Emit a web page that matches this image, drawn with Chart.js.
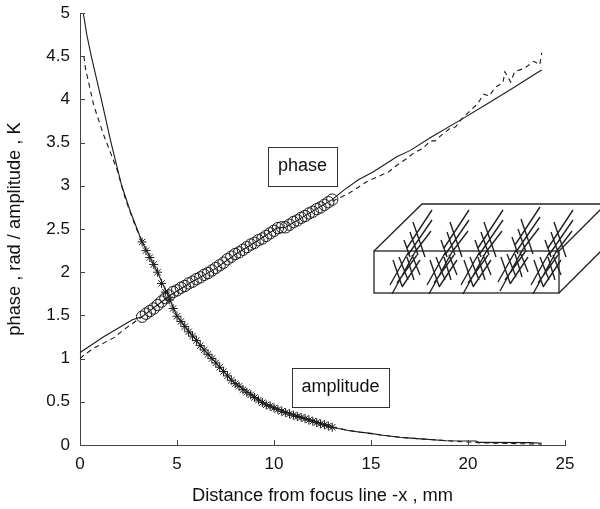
<!DOCTYPE html>
<html>
<head>
<meta charset="utf-8">
<style>
	html, body { margin: 0; padding: 0; background: #fff; }
	#wrap { width: 600px; height: 509px; }
</style>
<script src="https://cdn.jsdelivr.net/npm/chart.js@4"></script>
</head>
<body>
<div id="wrap"><canvas id="fig"></canvas></div>
<script>
// values
const xTickValues = [0, 5, 10, 15, 20, 25];
const yTickValues = [0, 0.5, 1, 1.5, 2, 2.5, 3, 3.5, 4, 4.5, 5];

const ampSolidX = [0.17, 0.35, 0.58, 1.1, 1.6, 2.15, 2.6, 3.2, 4.0, 5.0, 6.4, 7.9, 9.65, 11.4, 13.0, 13.95, 15.0, 15.5, 16.5, 17.2, 18.9, 20.4, 20.6, 23.2, 23.8];
const ampSolidY = [5.0, 4.75, 4.5, 4.0, 3.5, 3.0, 2.7, 2.35, 2.0, 1.49, 1.1, 0.73, 0.46, 0.32, 0.205, 0.162, 0.135, 0.116, 0.09, 0.077, 0.05, 0.046, 0.03, 0.027, 0.02];

// dashed curves are hidden under the markers, the null leaves that stretch empty
const ampDashX = [0.2, 0.28, 0.71, 1.2, 1.92, 2.35, 2.86, 3.2, 8.0, 13.0, 14.5, 16.5, 18.9, 20.6, 23.8];
const ampDashY = [4.5, 4.36, 3.93, 3.6, 3.18, 2.84, 2.53, 2.35, null, 0.205, 0.145, 0.088, 0.05, 0.025, 0.01];

const phaseSolidX = [0, 0.2, 1.2, 2.7, 3.2, 4.67, 5.78, 6.9, 8.1, 9.05, 10.15, 10.6, 13.0, 13.6, 14.35, 15.1, 16.35, 17.03, 18.07, 19.6, 21.0, 22.3, 23.5, 23.8];
const phaseSolidY = [1.07, 1.1, 1.25, 1.45, 1.485, 1.736, 1.89, 2.03, 2.22, 2.35, 2.51, 2.52, 2.84, 2.95, 3.07, 3.16, 3.34, 3.41, 3.56, 3.76, 3.95, 4.13, 4.3, 4.34];

const phaseDashX = [0, 0.2, 0.7, 1.73, 2.35, 3.2, 8.0, 13.0, 13.84, 14.8, 15.9, 16.35, 16.87, 17.2, 17.65, 18.06, 18.3, 18.6, 19.1, 19.35, 19.7, 20.5, 20.8, 21.1, 21.4, 21.8, 21.9, 22.2, 22.4, 22.9, 23.4, 23.7, 23.8];
const phaseDashY = [1.0, 1.04, 1.12, 1.24, 1.35, 1.485, null, 2.82, 2.91, 3.05, 3.16, 3.24, 3.32, 3.38, 3.43, 3.52, 3.52, 3.58, 3.67, 3.68, 3.78, 3.95, 4.06, 4.04, 4.14, 4.19, 4.32, 4.2, 4.32, 4.36, 4.44, 4.4, 4.54];

const markerX = [3.2, 3.4, 3.6, 3.8, 4.0, 4.2, 4.4, 4.6, 4.8, 5.0, 5.2, 5.4, 5.6, 5.8, 6.0, 6.2, 6.4, 6.6, 6.8, 7.0, 7.2, 7.4, 7.6, 7.8, 8.0, 8.2, 8.4, 8.6, 8.8, 9.0, 9.2, 9.4, 9.6, 9.8, 10.0, 10.2, 10.4, 10.6, 10.8, 11.0, 11.2, 11.4, 11.6, 11.8, 12.0, 12.2, 12.4, 12.6, 12.8, 13.0];
const phaseMarkerY = [1.485, 1.52, 1.55, 1.58, 1.62, 1.66, 1.70, 1.73, 1.77, 1.79, 1.82, 1.84, 1.87, 1.89, 1.92, 1.94, 1.97, 1.99, 2.02, 2.05, 2.08, 2.11, 2.15, 2.18, 2.21, 2.23, 2.26, 2.29, 2.32, 2.34, 2.37, 2.39, 2.42, 2.45, 2.48, 2.51, 2.52, 2.52, 2.55, 2.58, 2.60, 2.63, 2.65, 2.68, 2.70, 2.73, 2.75, 2.78, 2.81, 2.84];
const ampMarkerY = [2.35, 2.25, 2.17, 2.09, 2.0, 1.87, 1.77, 1.68, 1.58, 1.49, 1.43, 1.37, 1.31, 1.26, 1.21, 1.15, 1.10, 1.05, 1.0, 0.95, 0.90, 0.85, 0.80, 0.75, 0.71, 0.68, 0.64, 0.61, 0.58, 0.55, 0.52, 0.49, 0.465, 0.45, 0.43, 0.41, 0.39, 0.375, 0.36, 0.345, 0.33, 0.32, 0.305, 0.29, 0.275, 0.26, 0.245, 0.235, 0.22, 0.205];

const ink = '#1a1a1a';
const fontFamily = '"Liberation Sans", Arial, sans-serif';

function pts(xs, ys) {
	return xs.map(function(x, i) { return { x: x, y: ys[i] }; });
}

function curve(xs, ys, dash) {
	return {
		data        : pts(xs, ys),
		borderColor : ink,
		borderWidth : 1.1,
		borderDash  : dash,
		pointRadius : 0,
		tension     : 0,
		clip        : false
	};
}

function markers(xs, ys, style, radius, width) {
	return {
		data             : pts(xs, ys),
		showLine         : false,
		pointStyle       : style,
		pointRadius      : radius,
		pointBorderWidth : width,
		pointBorderColor : ink,
		pointBackgroundColor : 'transparent'
	};
}

// small ticks pointing into the plot
const innerTicks = {
	id : 'innerTicks',
	afterDraw(chart) {
		const c = chart.ctx, xs = chart.scales.x, ys = chart.scales.y;
		c.save();
		c.strokeStyle = '#444';
		c.lineWidth = 1;
		c.beginPath();
		xTickValues.forEach(function(v) {
			let p = Math.round(xs.getPixelForValue(v)) + 0.5;
			c.moveTo(p, ys.bottom);
			c.lineTo(p, ys.bottom - 5);
		});
		yTickValues.forEach(function(v) {
			let p = Math.round(ys.getPixelForValue(v)) + 0.5;
			c.moveTo(xs.left, p);
			c.lineTo(xs.left + 5, p);
		});
		c.stroke();
		c.restore();
	}
};

function labelBox(c, text, l, t, r, b) {
	c.strokeStyle = '#333';
	c.lineWidth = 1;
	c.strokeRect(l + 0.5, t + 0.5, r - l, b - t);
	c.fillStyle = '#111';
	c.font = '18px ' + fontFamily;
	c.textAlign = 'center';
	c.textBaseline = 'middle';
	c.fillText(text, (l + r) / 2, (t + b) / 2);
}

function hatch(c, dx, dy) {
	// one cluster of crossing fibres
	const lines = [
		[407, 248, 432, 210], [408, 255, 432, 220], [415, 252, 431, 231],
		[392, 294, 415, 252], [390, 285, 408, 253], [402, 287, 420, 260], [397, 283, 417, 255],
		[413, 222, 425, 257], [410, 232, 418, 255], [404, 240, 410, 257],
		[393, 260, 402, 286], [399, 257, 408, 280], [407, 257, 414, 280], [412, 255, 420, 275]
	];
	c.beginPath();
	lines.forEach(function(l) {
		c.moveTo(l[0] + dx, l[1] + dy);
		c.lineTo(l[2] + dx, l[3] + dy);
	});
	c.stroke();
}

const sketch = {
	id : 'sketch',
	afterDraw(chart) {
		const c = chart.ctx;
		c.save();
		labelBox(c, 'phase', 268, 147, 337, 186);
		labelBox(c, 'amplitude', 292, 368, 389, 407);

		// block with fibres
		c.strokeStyle = '#222';
		c.lineWidth = 1.4;
		[0, 37, 71, 108, 141].forEach(function(dx, i) {
			hatch(c, dx, i == 3 ? -3 : 0);
		});
		c.lineWidth = 1.3;
		c.strokeRect(374, 251, 185, 42);
		c.beginPath();
		c.moveTo(374, 251); c.lineTo(422, 204); c.lineTo(606, 204); c.lineTo(559, 251);
		c.moveTo(559, 293); c.lineTo(606, 246);
		c.stroke();
		c.restore();
	}
};

new Chart(document.getElementById('fig').getContext('2d'), {
	type : 'line',
	data : {
		datasets : [
			curve(ampSolidX, ampSolidY, []),
			curve(ampDashX, ampDashY, [5, 4]),
			curve(phaseSolidX, phaseSolidY, []),
			curve(phaseDashX, phaseDashY, [5, 4]),
			markers(markerX, phaseMarkerY, 'circle', 5.7, 1),
			markers(markerX, ampMarkerY, 'star', 4.5, 1)
		]
	},
	options : {
		responsive : true,
		maintainAspectRatio : false,
		animation : false,
		layout : { padding : { top : 13, right : 35, bottom : 0, left : 0 } },
		plugins : { legend : { display : false }, tooltip : { enabled : false } },
		scales : {
			x : {
				type : 'linear',
				min : 0,
				max : 25,
				afterFit(s) { s.height = 64; s.paddingLeft = 0; s.paddingRight = 0; },
				grid : { display : false, drawTicks : false },
				border : { display : true, color : '#444', width : 1 },
				ticks : {
					stepSize : 5,
					padding : 9,
					maxRotation : 0,
					color : '#111',
					font : { family : fontFamily, size : 17 }
				},
				title : {
					display : true,
					text : 'Distance from focus line -x , mm',
					color : '#111',
					font : { family : fontFamily, size : 18.3 },
					padding : { top : 0, bottom : 2 }
				}
			},
			y : {
				min : 0,
				max : 5,
				afterFit(s) { s.width = 80; s.paddingTop = 0; s.paddingBottom = 0; },
				grid : { display : false, drawTicks : false },
				border : { display : true, color : '#444', width : 1 },
				ticks : {
					stepSize : 0.5,
					padding : 10,
					color : '#111',
					font : { family : fontFamily, size : 17 },
					callback : function(v) { return String(v); }
				},
				title : {
					display : true,
					text : 'phase , rad / amplitude , K',
					color : '#111',
					font : { family : fontFamily, size : 18.3 },
					padding : { top : 4, bottom : 0 }
				}
			}
		}
	},
	plugins : [innerTicks, sketch]
});
</script>
</body>
</html>
